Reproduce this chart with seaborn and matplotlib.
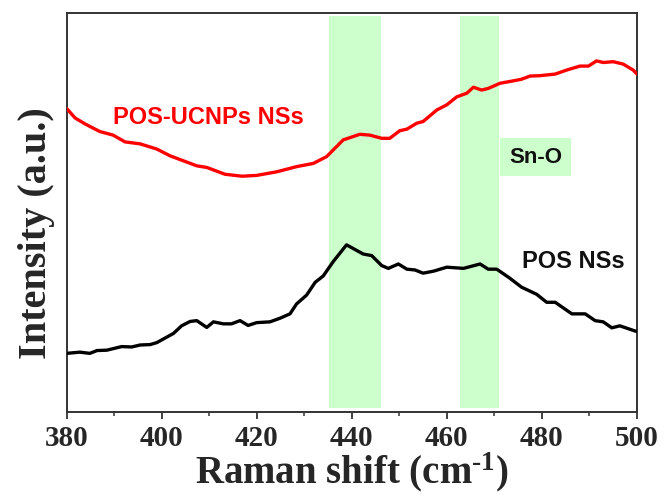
import numpy as np
import pandas as pd
import matplotlib
matplotlib.use("Agg")
import matplotlib.pyplot as plt
from matplotlib.ticker import MultipleLocator, NullLocator
import seaborn as sns

# Raman spectra (arbitrary intensity units, curves offset vertically)
ucnp_shift = [380.0, 381.8, 383.9, 387.0, 389.8, 392.3, 395.5, 399.0, 401.8, 407.4,
              409.5, 413.3, 416.9, 420.0, 424.2, 428.4, 431.9, 434.7, 438.2, 441.7,
              443.8, 446.3, 448.0, 450.1, 451.6, 453.7, 455.0, 457.9, 460.0, 462.1,
              464.2, 465.6, 467.3, 468.7, 471.2, 474.0, 475.7, 477.5, 479.6, 482.8,
              485.2, 488.0, 489.8, 491.5, 492.9, 495.0, 497.1, 499.2, 500.0]
ucnp_int = [76.1, 73.7, 72.2, 70.3, 69.4, 67.7, 67.2, 65.9, 64.2, 61.7,
            61.3, 59.6, 59.1, 59.3, 60.2, 61.5, 62.3, 64.0, 68.2, 69.6,
            69.4, 68.6, 68.6, 70.5, 70.9, 72.4, 72.8, 75.7, 77.0, 79.0,
            79.9, 81.4, 80.7, 81.1, 82.4, 83.0, 83.4, 84.2, 84.3, 84.7,
            85.7, 86.7, 86.7, 88.0, 87.6, 87.8, 87.2, 85.7, 84.7]

pos_shift = [380.0, 382.8, 384.9, 386.4, 388.5, 391.6, 393.7, 395.5, 397.6, 399.0,
             402.5, 404.2, 406.0, 407.4, 409.5, 410.9, 413.0, 414.7, 416.5, 418.2,
             420.0, 422.8, 424.9, 427.0, 428.4, 430.5, 432.3, 434.0, 436.1, 438.9,
             442.4, 444.2, 446.3, 447.7, 449.8, 451.6, 453.3, 455.0, 457.2, 460.0,
             463.5, 467.0, 468.7, 470.5, 473.3, 475.7, 478.9, 481.0, 482.8, 486.3,
             489.1, 491.2, 492.9, 494.7, 496.4, 499.6, 500.0]
pos_int = [14.7, 15.0, 14.7, 15.4, 15.5, 16.4, 16.3, 16.8, 16.9, 17.4,
           19.7, 21.6, 22.7, 22.9, 21.2, 22.6, 22.1, 22.1, 22.9, 21.7,
           22.4, 22.6, 23.5, 24.6, 27.1, 29.3, 32.5, 34.1, 37.7, 41.9,
           39.6, 39.2, 36.7, 36.0, 37.1, 35.8, 35.6, 34.8, 35.3, 36.3,
           36.0, 37.1, 35.8, 35.8, 33.5, 31.3, 29.5, 27.5, 27.5, 24.6,
           24.6, 22.9, 22.6, 21.1, 21.6, 20.3, 20.2]

# Highlighted Sn-O band regions (cm^-1)
band_lo = [435.2, 462.7]
band_hi = [446.1, 470.9]

x_ticks = [380, 400, 420, 440, 460, 480, 500]

sns.set_theme(style="ticks")
plt.rcParams["font.family"] = ["Liberation Serif", "DejaVu Serif"]
plt.rcParams["mathtext.fontset"] = "custom"
plt.rcParams["mathtext.rm"] = "Liberation Serif:bold"
plt.rcParams["mathtext.bf"] = "Liberation Serif:bold"
plt.rcParams["mathtext.it"] = "Liberation Serif:bold"

fig = plt.figure(figsize=(6.64, 4.97), dpi=100)
ax = fig.add_axes([0.1002, 0.171, 0.8591, 0.8028])

for lo, hi in zip(band_lo, band_hi):
    ax.axvspan(lo, hi, ymin=0.01, ymax=0.9915, color="#ccffcc", lw=0, zorder=0)

df_ucnp = pd.DataFrame({"shift": ucnp_shift, "intensity": ucnp_int})
df_pos = pd.DataFrame({"shift": pos_shift, "intensity": pos_int})
sns.lineplot(data=df_ucnp, x="shift", y="intensity", color="#ff0000", lw=2.4,
             sort=False, estimator=None, ax=ax, zorder=3)
sns.lineplot(data=df_pos, x="shift", y="intensity", color="#000000", lw=2.4,
             sort=False, estimator=None, ax=ax, zorder=3)

ax.set_xlim(380, 500)
ax.set_ylim(0, 100)
ax.set_xticks(x_ticks)
ax.set_xticklabels([str(t) for t in x_ticks])
ax.xaxis.set_minor_locator(MultipleLocator(10))
ax.yaxis.set_major_locator(NullLocator())
ax.tick_params(axis="x", which="major", direction="out", length=5, width=1.3,
               color="#333333", labelsize=21, pad=4)
ax.tick_params(axis="x", which="minor", direction="out", length=3, width=1.1,
               color="#333333")
for lbl in ax.get_xticklabels():
    lbl.set_fontweight("bold")

for side in ["left", "right", "top", "bottom"]:
    ax.spines[side].set_visible(True)
    ax.spines[side].set_linewidth(1.4)
    ax.spines[side].set_color("#333333")

ax.set_xlabel(r"Raman shift (cm$^{\text{-1}}$)", fontsize=28, fontweight="bold",
              labelpad=-1)
ax.set_ylabel("Intensity (a.u.)", fontsize=29, fontweight="bold")
ax.yaxis.set_label_coords(-0.021, 0.449)

sans = ["Liberation Sans", "DejaVu Sans"]
ax.text(409.8, 73.7, "POS-UCNPs NSs", color="#ff0000", fontsize=17,
        fontweight="bold", family=sans, ha="center", va="center")
ax.text(478.7, 63.9, "Sn-O", color="#111111", fontsize=16, fontweight="bold",
        family=sans, ha="center", va="center",
        bbox=dict(boxstyle="square,pad=0.4", fc="#ccffcc", ec="none"))
ax.text(486.6, 37.6, "POS NSs", color="#111111", fontsize=17,
        fontweight="bold", family=sans, ha="center", va="center")

fig.savefig("out.png", dpi=100)
